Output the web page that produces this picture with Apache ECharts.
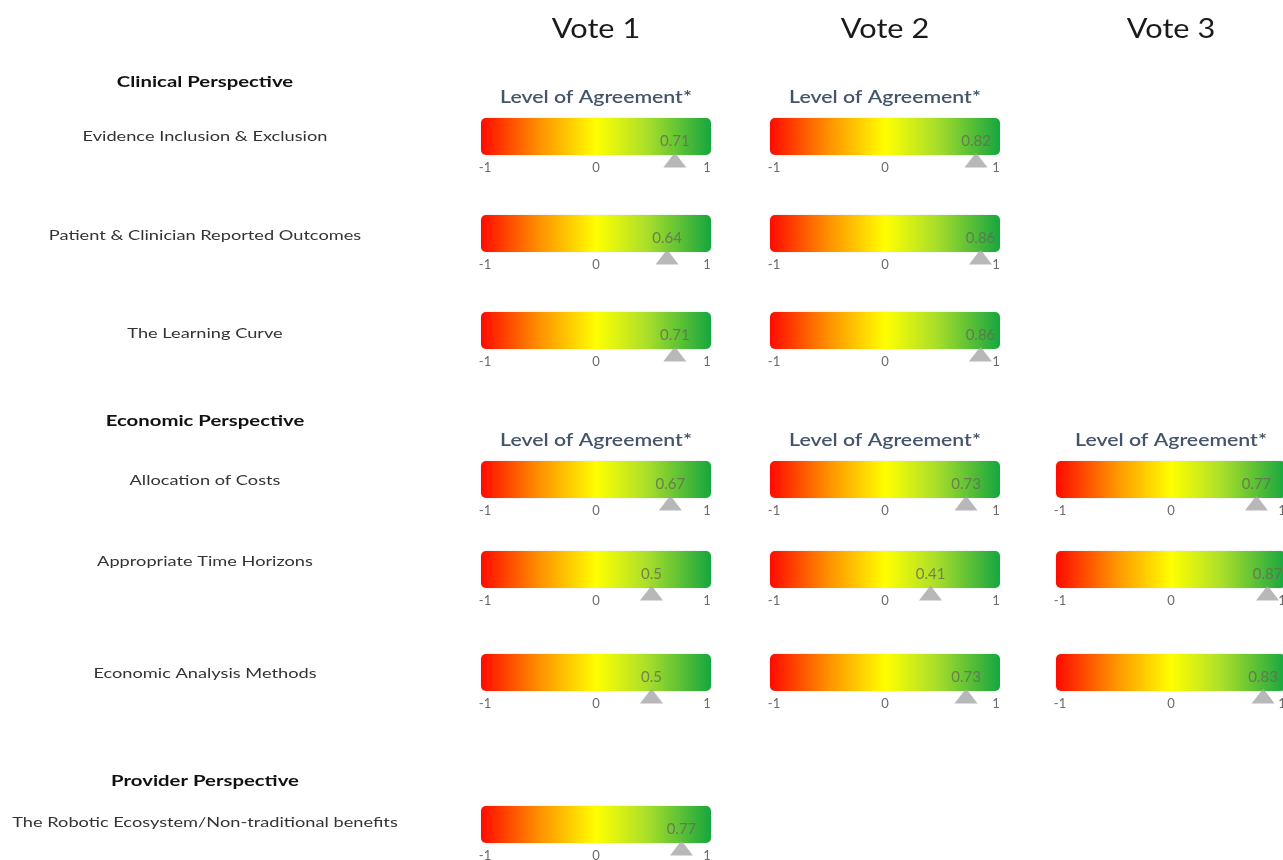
<!DOCTYPE html>
<html>
<head>
<meta charset="utf-8">
<style>
  html, body { margin: 0; padding: 0; background: #ffffff; }
  #chart { width: 1283px; height: 860px; }
</style>
<script src="https://cdn.jsdelivr.net/npm/echarts@6/dist/echarts.min.js"></script>
</head>
<body>
<div id="chart"></div>
<script>
// ---- data ----
const voteNames = ['Vote 1', 'Vote 2', 'Vote 3'];
const sections = ['Clinical Perspective', 'Economic Perspective', 'Provider Perspective'];
const criteria = [
  'Evidence Inclusion & Exclusion',
  'Patient & Clinician Reported Outcomes',
  'The Learning Curve',
  'Allocation of Costs',
  'Appropriate Time Horizons',
  'Economic Analysis Methods',
  'The Robotic Ecosystem/Non-traditional benefits'
];
const criterionSection = [0, 0, 0, 1, 1, 1, 2];
const vote1 = [0.71, 0.64, 0.71, 0.67, 0.5, 0.5, 0.77];
const vote2 = [0.82, 0.86, 0.86, 0.73, 0.41, 0.73, null];
const vote3 = [null, null, null, 0.77, 0.87, 0.83, null];
const scaleTicks = [-1, 0, 1];
const scaleTitle = 'Level of Agreement*';

// ---- layout ----
const FONT = 'Lato, "Open Sans", sans-serif';
const colAxisLeft = [485, 774, 1060];   // pixel x of -1 on each column's scale
const axisWidth = 222;
const barHeight = 37;
const rowTop = [118, 215, 312, 461, 551, 654, 806];
const rowLabelY = [136, 235, 333, 480, 561, 673, 822];
const sectionY = [82, 421, 781];
const labelCenterX = 205;

const votes = [vote1, vote2, vote3];
const grids = [], xAxes = [], yAxes = [], series = [], graphics = [];

const barGradient = new echarts.graphic.LinearGradient(0, 0, 1, 0, [
  { offset: 0, color: '#ff0a00' },
  { offset: 0.25, color: '#ff8f00' },
  { offset: 0.5, color: '#ffff00' },
  { offset: 0.72, color: '#aadf2a' },
  { offset: 1, color: '#16a640' }
]);

function renderBar(params, api) {
  const a = api.coord([scaleTicks[0], 1]);
  const b = api.coord([scaleTicks[scaleTicks.length - 1], 0]);
  return {
    type: 'rect',
    shape: { x: a[0] - 4, y: a[1], width: b[0] - a[0] + 8, height: b[1] - a[1], r: 5 },
    style: { fill: barGradient, shadowBlur: 2, shadowColor: 'rgba(0,0,0,0.15)' }
  };
}

votes.forEach((vals, c) => {
  vals.forEach((v, r) => {
    if (v === null || v === undefined) return;
    const gi = grids.length;
    // the third column runs past the right edge of the canvas, so no bound fitting
    grids.push({ left: colAxisLeft[c], top: rowTop[r], width: axisWidth, height: barHeight,
      outerBoundsMode: 'none', containLabel: false });
    xAxes.push({
      gridIndex: gi, type: 'value',
      min: scaleTicks[0], max: scaleTicks[scaleTicks.length - 1], interval: 1,
      axisLine: { show: false }, axisTick: { show: false }, splitLine: { show: false },
      axisLabel: {
        show: true, margin: 6, color: '#6b6b6b', fontFamily: FONT, fontSize: 13,
        hideOverlap: false,
        formatter: (x) => scaleTicks.includes(x) ? String(x) : ''
      }
    });
    yAxes.push({ gridIndex: gi, type: 'value', min: 0, max: 1, show: false });
    series.push({
      type: 'custom', xAxisIndex: gi, yAxisIndex: gi, silent: true,
      renderItem: renderBar, data: [[scaleTicks[0], 0]], z: 1
    });
    series.push({
      type: 'scatter', xAxisIndex: gi, yAxisIndex: gi, silent: true,
      symbol: 'triangle', symbolSize: [23, 15], symbolOffset: [0, 5],
      itemStyle: { color: '#a6a6a6' },
      label: {
        show: true, position: 'top', distance: 4,
        formatter: (p) => String(p.value[0]),
        color: '#656b55', fontFamily: FONT, fontSize: 15
      },
      data: [[v, 0]], z: 3
    });
  });
});

// text helper: slightly widened lettering
function addText(text, x, y, font, fill, sx) {
  graphics.push({
    type: 'text', x: x, y: y, scaleX: sx, silent: true,
    style: { text: text, align: 'center', verticalAlign: 'middle', fill: fill, font: font }
  });
}

// column headings
voteNames.forEach((name, c) => {
  addText(name, colAxisLeft[c] + axisWidth / 2, 30, '26px ' + FONT, '#1a1a1a', 1.18);
});

// scale titles above the first row of each clinical / economic block
sections.forEach((s, si) => {
  if (si === 2) return;
  const first = criterionSection.indexOf(si);
  votes.forEach((vals, c) => {
    const anyInSection = criterionSection.some((sec, r) => sec === si && vals[r] !== null);
    if (!anyInSection) return;
    addText(scaleTitle, colAxisLeft[c] + axisWidth / 2, rowTop[first] - 20,
      '600 17px ' + FONT, '#44546a', 1.25);
  });
});

// section headings and criterion labels
sections.forEach((s, si) => {
  addText(s, labelCenterX, sectionY[si], 'bold 16px ' + FONT, '#111111', 1.27);
});
criteria.forEach((name, r) => {
  addText(name, labelCenterX, rowLabelY[r], '14px ' + FONT, '#333333', 1.3);
});

const chart = echarts.init(document.getElementById('chart'));
chart.setOption({
  animation: false,
  grid: grids,
  xAxis: xAxes,
  yAxis: yAxes,
  series: series,
  graphic: graphics
});
</script>
</body>
</html>
